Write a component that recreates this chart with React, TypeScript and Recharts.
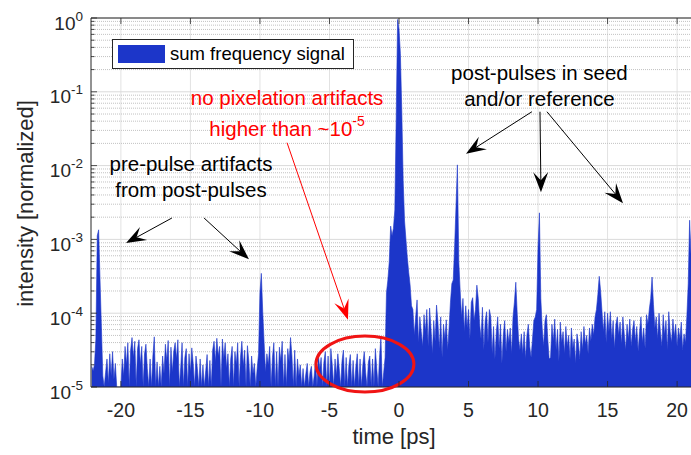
import { Area, AreaChart, CartesianGrid, Legend, ReferenceDot, ReferenceLine, XAxis, YAxis } from 'recharts';

const FONT = '"Liberation Sans", Arial, Helvetica, sans-serif';
const INK = '#262626';
const BLUE = '#1c36c9';
const RED = '#ff0000';

// trace is sampled every 0.1 ps starting at -22.1 ps
const firstSamplePs = -22.1;
const sampleStepPs = 0.1;

// log10 of the normalized intensity, one row = 1 ps
const logIntensity = [
  -4.72, -4.78, -4.70, -4.35, -2.95, -2.87, -3.55, -4.20, -4.85, -5.00, // -22.1
  -4.80, -4.62, -4.95, -4.55, -4.85, -4.52, -4.90, -4.68, -5.00, -5.00, // -21.1
  -5.00, -5.00, -4.62, -4.85, -4.45, -4.70, -4.40, -5.00, -4.50, -4.33, // -20.1
  -4.60, -4.38, -5.00, -4.48, -4.36, -4.70, -4.45, -5.00, -4.55, -4.42, // -19.1
  -4.75, -5.00, -4.62, -5.00, -4.58, -4.32, -5.00, -4.66, -5.00, -4.72, // -18.1
  -5.00, -4.58, -4.82, -4.42, -4.65, -4.37, -5.00, -4.46, -4.80, -4.52, // -17.1
  -4.40, -4.62, -4.36, -5.00, -4.74, -4.40, -5.00, -4.60, -4.48, -5.00, // -16.1
  -4.55, -4.80, -4.47, -4.68, -5.00, -4.58, -4.75, -5.00, -4.62, -5.00, // -15.1
  -4.70, -5.00, -4.78, -4.56, -5.00, -4.64, -5.00, -4.50, -4.38, -4.66, // -14.1
  -4.34, -4.58, -4.45, -5.00, -4.35, -4.62, -4.40, -4.75, -4.55, -5.00, // -13.1
  -4.62, -4.45, -5.00, -4.52, -4.70, -4.40, -5.00, -4.60, -4.38, -4.72, // -12.1
  -4.50, -5.00, -4.44, -4.65, -5.00, -4.58, -4.82, -4.68, -5.00, -4.75, // -11.1
  -4.55, -3.72, -3.46, -3.98, -4.40, -4.80, -4.55, -4.70, -4.45, -5.00, // -10.1
  -4.60, -4.40, -5.00, -4.52, -5.00, -4.46, -4.65, -4.38, -5.00, -4.56, // -9.1
  -5.00, -4.48, -4.66, -4.33, -4.58, -5.00, -4.50, -5.00, -4.62, -4.85, // -8.1
  -4.70, -5.00, -4.75, -5.00, -4.82, -4.68, -5.00, -4.80, -4.72, -5.00, // -7.1
  -4.85, -4.62, -5.00, -4.55, -4.76, -4.60, -5.00, -4.66, -4.52, -5.00, // -6.1
  -4.58, -5.00, -4.48, -4.70, -5.00, -4.62, -4.85, -4.55, -4.75, -5.00, // -5.1
  -4.65, -4.50, -5.00, -4.60, -5.00, -4.70, -4.56, -5.00, -4.64, -5.00, // -4.1
  -4.72, -4.55, -5.00, -4.62, -5.00, -4.70, -4.52, -4.80, -5.00, -4.66, // -3.1
  -4.58, -5.00, -4.62, -5.00, -4.48, -4.75, -5.00, -4.60, -4.32, -5.00, // -2.1
  -4.80, -4.60, -3.72, -3.55, -3.30, -2.82, -2.95, -2.85, -2.60, -1.35, // -1.1
  -0.02, -0.15, -0.48, -1.25, -2.20, -2.75, -3.00, -3.25, -3.45, -3.62, // -0.1
  -3.90, -3.95, -4.30, -4.05, -3.82, -4.40, -4.05, -4.25, -4.45, -4.02, // 0.9
  -4.25, -3.95, -4.45, -3.93, -4.20, -4.55, -4.10, -4.38, -3.89, -4.12, // 1.9
  -4.48, -4.05, -4.60, -4.15, -4.35, -4.09, -4.50, -4.20, -3.85, -3.60, // 2.9
  -3.55, -3.10, -2.55, -1.99, -3.30, -3.70, -4.05, -3.80, -4.25, -3.90, // 3.9
  -4.20, -3.95, -4.35, -3.85, -3.79, -4.10, -3.95, -3.62, -3.80, -4.15, // 4.9
  -4.35, -3.92, -4.50, -4.10, -3.98, -4.40, -3.95, -4.05, -4.55, -4.18, // 5.9
  -4.62, -4.25, -4.05, -4.48, -4.15, -4.68, -4.30, -4.10, -4.52, -4.22, // 6.9
  -4.40, -4.20, -4.55, -4.05, -3.85, -3.58, -4.00, -4.35, -4.50, -4.28, // 7.9
  -4.55, -4.25, -4.62, -4.30, -4.15, -4.45, -4.60, -4.35, -4.10, -4.05, // 8.9
  -3.95, -3.10, -2.64, -3.80, -4.20, -4.45, -4.10, -4.02, -4.35, -4.62, // 9.9
  -4.60, -4.15, -4.38, -4.08, -4.50, -4.22, -4.65, -4.12, -4.40, -4.25, // 10.9
  -4.55, -4.18, -4.45, -4.30, -4.62, -4.20, -4.48, -4.35, -4.68, -4.28, // 11.9
  -4.40, -4.62, -4.25, -4.50, -4.18, -4.42, -4.30, -4.55, -4.20, -4.38, // 12.9
  -4.15, -4.30, -4.05, -3.95, -3.75, -3.50, -3.70, -3.98, -4.25, -3.98, // 13.9
  -4.40, -4.00, -4.25, -3.98, -4.35, -4.10, -4.48, -4.15, -4.05, -4.30, // 14.9
  -4.12, -4.42, -4.05, -4.28, -4.50, -4.15, -4.35, -4.08, -4.45, -4.22, // 15.9
  -4.10, -4.38, -4.18, -4.52, -4.25, -4.05, -4.40, -4.20, -4.48, -4.02, // 16.9
  -4.15, -3.95, -3.80, -3.51, -3.88, -4.20, -4.05, -4.35, -4.00, -4.25, // 17.9
  -4.45, -4.02, -4.30, -4.10, -4.50, -3.98, -4.25, -4.40, -4.08, -4.32, // 18.9
  -4.15, -4.45, -4.20, -4.35, -4.12, -4.50, -4.28, -4.40, -4.05, -3.60, // 19.9
  -2.74, -3.20, // 20.9
];

const timeTicks = [-20, -15, -10, -5, 0, 5, 10, 15, 20];
const decadeTicks = [1e-5, 1e-4, 1e-3, 1e-2, 1e-1, 1];
const minorSteps = [2, 3, 4, 5, 6, 7, 8, 9];
const minorTicks = decadeTicks.slice(0, -1).flatMap((d) => minorSteps.map((m) => m * d));
const allYTicks = [...decadeTicks, ...minorTicks].sort((a, b) => a - b);

// annotation anchors in data units (time in ps, log10 intensity)
const textNotes = [
  { t: -14.96, e: -2.07, color: '#000', gap: 26, lines: [{ text: 'pre-pulse artifacts' }, { text: 'from post-pulses' }] },
  { t: 10.1, e: -0.84, color: '#000', gap: 26, lines: [{ text: 'post-pulses in seed' }, { text: 'and/or reference' }] },
  { t: -8.05, e: -1.18, color: RED, gap: 31, lines: [{ text: 'no pixelation artifacts' }, { text: 'higher than ~10', sup: '-5' }] },
];

const arrows = [
  { from: [-16.33, -2.71], to: [-19.63, -3.05], color: '#000' },
  { from: [-14.02, -2.71], to: [-10.79, -3.27], color: '#000' },
  { from: [9.56, -1.27], to: [4.82, -1.84], color: '#000' },
  { from: [10.14, -1.27], to: [10.21, -2.36], color: '#000' },
  { from: [10.64, -1.27], to: [16.11, -2.51], color: '#000' },
  { from: [-8.05, -1.69], to: [-3.67, -4.09], color: RED },
];

const circledRegion = { t: -2.45, e: -4.69 };

const data = logIntensity.map((e, i) => ({
  t: Math.round((firstSamplePs + i * sampleStepPs) * 10) / 10,
  intensity: 10 ** e,
}));

const isDecade = (v: number) => Math.abs(Math.log10(v) - Math.round(Math.log10(v))) < 1e-6;

const YTick = ({ x, y, payload }: any) => {
  const major = isDecade(payload.value);
  const exp = Math.round(Math.log10(payload.value));
  return (
    <g>
      <line x1={x} y1={y} x2={x + (major ? 6 : 3.5)} y2={y} stroke={INK} strokeWidth={0.8} />
      {major && (
        <text x={x - 8} y={y + 11.5} textAnchor="end" fill={INK} fontFamily={FONT} fontSize={19}>
          <tspan>10</tspan>
          <tspan dy={-9} fontSize={13.5}>{String(exp)}</tspan>
        </text>
      )}
    </g>
  );
};

const XTick = ({ x, y, payload }: any) => (
  <g>
    <line x1={x} y1={y} x2={x} y2={y - 6} stroke={INK} strokeWidth={0.8} />
    <text x={x} y={y + 30} textAnchor="middle" fill={INK} fontFamily={FONT} fontSize={19.5}>
      {String(payload.value)}
    </text>
  </g>
);

const TopTick = ({ x, y }: any) => <line x1={x} y1={y} x2={x} y2={y + 6} stroke={INK} strokeWidth={0.8} />;

const arrowShape = (color: string) => (p: any) => {
  const { x1, y1, x2, y2 } = p;
  const len = Math.hypot(x2 - x1, y2 - y1) || 1;
  const ux = (x2 - x1) / len;
  const uy = (y2 - y1) / len;
  const nx = -uy;
  const ny = ux;
  const L = 20;
  const W = 7.5;
  const N = 12;
  const pts = [
    [x2, y2],
    [x2 - ux * L + nx * W, y2 - uy * L + ny * W],
    [x2 - ux * N, y2 - uy * N],
    [x2 - ux * L - nx * W, y2 - uy * L - ny * W],
  ];
  return (
    <g>
      <line x1={x1} y1={y1} x2={x2 - ux * N} y2={y2 - uy * N} stroke={color} strokeWidth={1} />
      <polygon points={pts.map((q) => q.join(',')).join(' ')} fill={color} />
    </g>
  );
};

const noteShape = (note: (typeof textNotes)[number]) => (p: any) => (
  <text x={p.cx} y={p.cy} textAnchor="middle" fill={note.color} fontFamily={FONT} fontSize={20.5}>
    {note.lines.map((ln, i) => (
      <tspan key={i} x={p.cx} y={p.cy + i * note.gap}>
        {ln.text}
        {ln.sup && (
          <tspan dy={-10} fontSize={14}>
            {ln.sup}
          </tspan>
        )}
      </tspan>
    ))}
  </text>
);

const ellipseShape = (p: any) => (
  <ellipse cx={p.cx} cy={p.cy} rx={49} ry={28} fill="none" stroke="#f01414" strokeWidth={3} />
);

const LegendBox = (props: any) => {
  const item = props.payload?.[0];
  return (
    <div
      style={{
        boxSizing: 'border-box',
        width: 242,
        height: 30,
        border: `1px solid ${INK}`,
        background: '#fff',
        display: 'flex',
        alignItems: 'center',
        fontFamily: FONT,
        fontSize: 18.5,
        color: '#000',
      }}
    >
      <div style={{ width: 47, height: 18, marginLeft: 5, background: BLUE }} />
      <span style={{ marginLeft: 5, whiteSpace: 'nowrap' }}>{item?.value}</span>
    </div>
  );
};

export default function App() {
  return (
    <div style={{ position: 'absolute', left: 0, top: 0, background: '#fff' }}>
      <AreaChart width={691} height={455} data={data} margin={{ top: 0, right: 0, bottom: 0, left: 0 }}>
        <CartesianGrid vertical verticalValues={timeTicks} horizontal={false} stroke="#e2e2e2" />
        <CartesianGrid vertical={false} horizontalValues={decadeTicks} stroke="#dadada" />
        <CartesianGrid vertical={false} horizontalValues={minorTicks} stroke="#c2c2c2" strokeDasharray="1 1" />
        <XAxis
          dataKey="t"
          type="number"
          domain={[-22.15, 21.0]}
          allowDataOverflow
          ticks={timeTicks}
          interval={0}
          height={68}
          tickSize={0}
          tickMargin={0}
          tickLine={false}
          axisLine={{ stroke: INK, strokeWidth: 1 }}
          tick={XTick}
          label={{
            content: ({ viewBox }: any) => (
              <text
                x={viewBox.x + viewBox.width / 2 + 3}
                y={viewBox.y + 57}
                textAnchor="middle"
                fill={INK}
                fontFamily={FONT}
                fontSize={22}
              >
                time [ps]
              </text>
            ),
          }}
        />
        <XAxis
          xAxisId="top"
          orientation="top"
          dataKey="t"
          type="number"
          domain={[-22.15, 21.0]}
          allowDataOverflow
          ticks={timeTicks}
          interval={0}
          height={18}
          tickSize={0}
          tickMargin={0}
          tickLine={false}
          axisLine={{ stroke: INK, strokeWidth: 1 }}
          tick={TopTick}
        />
        <YAxis
          type="number"
          scale="log"
          domain={[1e-5, 1]}
          allowDataOverflow
          ticks={allYTicks}
          interval={0}
          width={91}
          tickSize={0}
          tickMargin={0}
          tickLine={false}
          axisLine={{ stroke: INK, strokeWidth: 1 }}
          tick={YTick}
          label={{
            content: ({ viewBox }: any) => {
              const cx = viewBox.x + 33;
              const cy = viewBox.y + viewBox.height / 2 + 1;
              return (
                <text
                  x={cx}
                  y={cy}
                  transform={`rotate(-90, ${cx}, ${cy})`}
                  textAnchor="middle"
                  fill={INK}
                  fontFamily={FONT}
                  fontSize={22}
                >
                  intensity [normalized]
                </text>
              );
            },
          }}
        />
        <Legend
          layout="horizontal"
          verticalAlign="middle"
          align="center"
          content={LegendBox}
          wrapperStyle={{ left: 112, top: 39, width: 242, height: 30 }}
        />
        <Area
          type="linear"
          dataKey="intensity"
          name="sum frequency signal"
          baseValue="dataMin"
          stroke={BLUE}
          strokeWidth={0.6}
          fill={BLUE}
          fillOpacity={1}
          dot={false}
          activeDot={false}
          isAnimationActive={false}
        />
        {arrows.map((a, i) => (
          <ReferenceLine
            key={`arrow-${i}`}
            segment={[
              { x: a.from[0], y: 10 ** a.from[1] },
              { x: a.to[0], y: 10 ** a.to[1] },
            ]}
            ifOverflow="visible"
            shape={arrowShape(a.color)}
          />
        ))}
        {textNotes.map((n, i) => (
          <ReferenceDot key={`note-${i}`} x={n.t} y={10 ** n.e} r={0} ifOverflow="visible" shape={noteShape(n)} />
        ))}
        <ReferenceDot
          x={circledRegion.t}
          y={10 ** circledRegion.e}
          r={0}
          ifOverflow="visible"
          shape={ellipseShape}
        />
      </AreaChart>
    </div>
  );
}
